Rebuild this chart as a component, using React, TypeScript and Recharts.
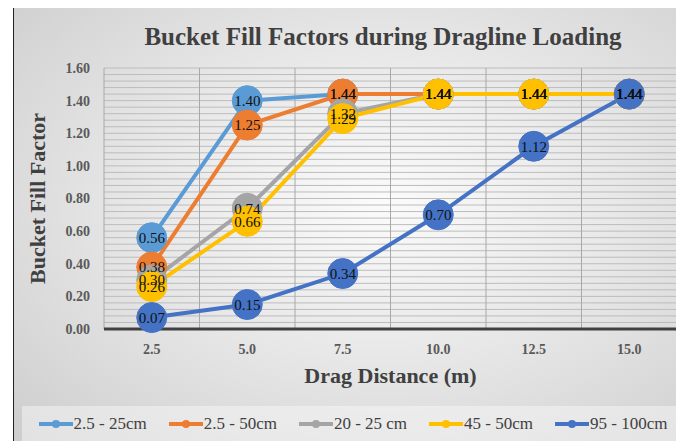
import { CartesianGrid, LabelList, Line, LineChart, XAxis, YAxis } from "recharts";

const distances = ["2.5", "5.0", "7.5", "10.0", "12.5", "15.0"];
const fill25 = [0.56, 1.4, 1.44, 1.44, 1.44, 1.44];
const fill50 = [0.38, 1.25, 1.44, 1.44, 1.44, 1.44];
const fill2025 = [0.3, 0.74, 1.32, 1.44, 1.44, 1.44];
const fill4550 = [0.26, 0.66, 1.29, 1.44, 1.44, 1.44];
const fill95100 = [0.07, 0.15, 0.34, 0.7, 1.12, 1.44];
const yTicks = [0, 0.2, 0.4, 0.6, 0.8, 1.0, 1.2, 1.4, 1.6];
const yMax = 1.6;

const series = [
  { key: "s1", name: "2.5 - 25cm", color: "#5B9BD5", values: fill25 },
  { key: "s2", name: "2.5 - 50cm", color: "#ED7D31", values: fill50 },
  { key: "s3", name: "20 - 25 cm", color: "#A5A5A5", values: fill2025 },
  { key: "s4", name: "45 - 50cm", color: "#FFC000", values: fill4550 },
  { key: "s5", name: "95 - 100cm", color: "#4472C4", values: fill95100 },
];

const data = distances.map((distance, i) => {
  const row: Record<string, string | number> = { distance };
  series.forEach((s) => (row[s.key] = s.values[i]));
  return row;
});

// minor gridlines every 0.04
const gridValues: number[] = [];
for (let i = 0; i <= 40; i++) gridValues.push(+(i * 0.04).toFixed(2));

const W = 671;
const H = 434;
const margin = { top: 60, right: 7, left: 76, bottom: 92 };
const plotW = W - 1 - margin.left - 14 - margin.right;
const serif = '"Liberation Serif", "Times New Roman", serif';

export default function App() {
  return (
    <div
      style={{
        position: "relative",
        width: W,
        height: H,
        marginLeft: 5,
        marginTop: -1,
        borderLeft: "1px solid #222",
        borderTop: "1px solid #222",
        boxSizing: "border-box",
        background:
          "radial-gradient(ellipse at 55% 45%, #fbfbfb 0%, #e8e8e8 45%, #cdcdcd 100%)",
        fontFamily: serif,
      }}
    >
      <div
        style={{
          position: "absolute",
          left: 0,
          width: 738,
          top: 15,
          textAlign: "center",
          fontSize: 25,
          fontWeight: "bold",
          color: "#404040",
        }}
      >
        Bucket Fill Factors during Dragline Loading
      </div>
      <LineChart width={W - 1} height={H - 1} data={data} margin={margin}>
        {/* fine horizontal lines */}
        <CartesianGrid
          stroke="#bcbcbc"
          strokeWidth={1}
          vertical={false}
          horizontalCoordinatesGenerator={({ offset }: any) =>
            gridValues.map((v) => offset.top + offset.height * (1 - v / yMax))
          }
        />
        {/* category boundaries */}
        <CartesianGrid
          stroke="#a8a8a8"
          strokeWidth={1}
          horizontal={false}
          verticalCoordinatesGenerator={({ offset }: any) =>
            [0, 1, 2, 3, 4, 5, 6].map((i) => offset.left + (i * offset.width) / 6)
          }
        />
        <XAxis
          dataKey="distance"
          height={20}
          padding={{ left: plotW / 12, right: plotW / 12 }}
          axisLine={{ stroke: "#404040", strokeWidth: 3 }}
          tickLine={false}
          tickSize={0}
          tickMargin={15}
          tick={{ fill: "#595959", fontSize: 14, fontWeight: "bold", fontFamily: serif }}
          label={{
            value: "Drag Distance (m)",
            position: "bottom",
            offset: 18,
            style: { fill: "#404040", fontSize: 22, fontWeight: "bold", fontFamily: serif },
          }}
        />
        <YAxis
          width={14}
          domain={[0, yMax]}
          ticks={yTicks}
          axisLine={false}
          tickLine={false}
          tickSize={0}
          tickMargin={14}
          tickFormatter={(v: number) => v.toFixed(2)}
          tick={{ fill: "#595959", fontSize: 14, fontWeight: "bold", fontFamily: serif }}
          label={{
            value: "Bucket Fill Factor",
            angle: -90,
            position: "left",
            offset: 53,
            style: {
              fill: "#404040",
              fontSize: 22,
              fontWeight: "bold",
              fontFamily: serif,
              textAnchor: "middle",
            },
          }}
        />
        {series.map((s) => (
          <Line
            key={s.key}
            dataKey={s.key}
            name={s.name}
            stroke={s.color}
            strokeWidth={4}
            dot={{ r: 15, fill: s.color, stroke: s.color, strokeWidth: 1 }}
            activeDot={false}
            isAnimationActive={false}
          >
            <LabelList
              dataKey={s.key}
              position="center"
              formatter={(v: any) => Number(v).toFixed(2)}
              style={{ fill: "#111", fontSize: 15, fontFamily: serif }}
            />
          </Line>
        ))}
      </LineChart>
      <div
        style={{
          position: "absolute",
          left: 8,
          top: 398,
          width: 662,
          height: 35,
          background: "rgba(250,250,250,0.45)",
          display: "flex",
          alignItems: "center",
          justifyContent: "center",
          gap: 22,
          fontSize: 17,
          color: "#404040",
        }}
      >
        {series.map((s) => (
          <div key={s.key} style={{ display: "flex", alignItems: "center" }}>
            <svg width={34} height={10} style={{ marginRight: 1 }}>
              <line x1={0} y1={5} x2={34} y2={5} stroke={s.color} strokeWidth={4} />
              <circle cx={17} cy={5} r={4} fill={s.color} />
            </svg>
            <span>{s.name}</span>
          </div>
        ))}
      </div>
    </div>
  );
}
